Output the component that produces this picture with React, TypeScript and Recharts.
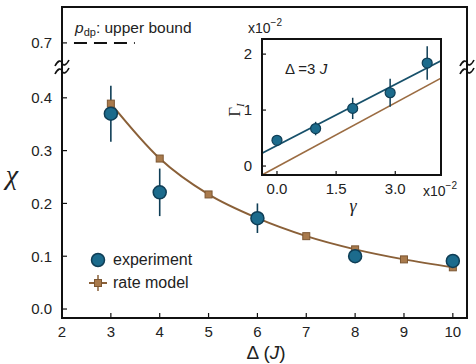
import React from 'react'
import {
  ComposedChart,
  Line,
  Scatter,
  ErrorBar,
  XAxis,
  YAxis,
  ReferenceLine,
} from 'recharts'

// main panel: chi vs Delta
const deltaExp = [3, 4, 6, 8, 10]
const chiExp = [0.37, 0.221, 0.172, 0.1, 0.091]
const chiExpErr = [0.053, 0.045, 0.028, 0.008, 0.008]
const deltaRate = [3, 4, 5, 6, 7, 8, 9, 10]
const chiRate = [0.389, 0.285, 0.217, 0.172, 0.138, 0.113, 0.094, 0.079]
const deltaTicks = [2, 3, 4, 5, 6, 7, 8, 9, 10]
const chiTicks = [0, 0.1, 0.2, 0.3, 0.4, 0.7]
const pdpBound = 0.7
const pdpSpan = [2.245, 3.49]

// inset: Gamma_I vs gamma (both x1e-2)
const gammaExp = [0.0, 0.98, 1.92, 2.87, 3.81]
const gammaRateExp = [0.46, 0.67, 1.03, 1.31, 1.84]
const gammaRateErr = [0.05, 0.12, 0.19, 0.25, 0.3]
const gammaFit = [-0.38, 4.16]
const expFit = [0.23, 1.88]
const rateFit = [-0.16, 1.57]
const gammaTicks = [0, 1.5, 3.0]
const gammaRateTicks = [0, 1, 2]

const mainX = [2, 10.29]
const mainY = [-0.017, 0.572]
const insetX = [-0.38, 4.16]
const insetY = [-0.16, 2.27]

// layout of the two panels
const W = 476
const H = 364
const MAIN = { top: 6, right: 8, left: 0, yAxisW: 62, xAxisH: 46 }
const INSET = { x: 210, y: 18, w: 240, h: 200, top: 20, right: 8, yAxisW: 52, xAxisH: 43 }

// broken y axis: values above the break are pulled down
const BREAK_SHIFT = 0.196
const disp = (v: number) => (v > 0.5 ? v - BREAK_SHIFT : v)
const undisp = (v: number) => (v > 0.45 ? v + BREAK_SHIFT : v)

const BLUE = '#1c6b8c'
const BLUE_DARK = '#0f3e56'
const BROWN = '#a97a4c'
const BROWN_DARK = '#7c5733'
const BROWN_LINE = '#8a6038'
const INK = '#222'
const AXIS = '#111'
const FONT = '"Liberation Sans", Arial, sans-serif'

const expData = deltaExp.map((x, i) => ({ x, y: chiExp[i], err: chiExpErr[i] }))
const rateData = deltaRate.map((x, i) => ({ x, y: chiRate[i] }))
const insetExp = gammaExp.map((x, i) => ({ x, y: gammaRateExp[i], err: gammaRateErr[i] }))
const insetExpFit = gammaFit.map((x, i) => ({ x, y: expFit[i] }))
const insetRateFit = gammaFit.map((x, i) => ({ x, y: rateFit[i] }))

const tickStyle = { fontSize: 15, fill: INK, fontFamily: FONT }
const tickLine = { stroke: AXIS, strokeWidth: 1.2 }
const spine = { stroke: AXIS, strokeWidth: 2 }

const Circle = (p: any) => (
  <circle cx={p.cx} cy={p.cy} r={6.5} fill={BLUE} stroke={BLUE_DARK} strokeWidth={1.5} />
)
const SmallCircle = (p: any) => (
  <circle cx={p.cx} cy={p.cy} r={5} fill={BLUE} stroke={BLUE_DARK} strokeWidth={1.2} />
)
const Square = (p: any) => (
  <rect
    key={p.index}
    x={p.cx - 3.5}
    y={p.cy - 3.5}
    width={7}
    height={7}
    fill={BROWN}
    stroke={BROWN_DARK}
    strokeWidth={1}
  />
)

function LegendBox() {
  return (
    <div
      style={{
        position: 'absolute',
        left: 88,
        top: 248,
        fontFamily: FONT,
        fontSize: 16,
        color: INK,
        lineHeight: '23px',
      }}
    >
      <div style={{ display: 'flex', alignItems: 'center' }}>
        <svg width={22} height={18}>
          <circle cx={10} cy={9} r={6.5} fill={BLUE} stroke={BLUE_DARK} strokeWidth={1.5} />
        </svg>
        <span style={{ marginLeft: 3 }}>experiment</span>
      </div>
      <div style={{ display: 'flex', alignItems: 'center' }}>
        <svg width={22} height={18}>
          <line x1={1} x2={19} y1={9} y2={9} stroke={BROWN_LINE} strokeWidth={2} />
          <line x1={10} x2={10} y1={1} y2={17} stroke={BROWN_LINE} strokeWidth={1.5} />
          <rect x={6.5} y={5.5} width={7} height={7} fill={BROWN} stroke={BROWN_DARK} />
        </svg>
        <span style={{ marginLeft: 3 }}>rate model</span>
      </div>
    </div>
  )
}

function Squiggle({ x, y }: { x: number; y: number }) {
  const wave = 'M -7 3 C -4 -3 -1 -3 0 0 S 4 3 7 -3'
  return (
    <g transform={`translate(${x},${y})`}>
      <path d={wave} transform="translate(0,-4)" fill="none" stroke="#111" strokeWidth={1.6} />
      <path d={wave} transform="translate(0,4)" fill="none" stroke="#111" strokeWidth={1.6} />
    </g>
  )
}

function Frame({ x, y, w, h }: { x: number; y: number; w: number; h: number }) {
  return (
    <path
      d={`M ${x} ${y} H ${x + w} V ${y + h} H ${x} Z`}
      fill="none"
      stroke={AXIS}
      strokeWidth={2}
    />
  )
}

function Inset() {
  return (
    <ComposedChart
      width={INSET.w}
      height={INSET.h}
      margin={{ top: INSET.top, right: INSET.right, bottom: 0, left: 0 }}
    >
      <XAxis
        xAxisId="b"
        dataKey="x"
        type="number"
        domain={insetX}
        ticks={gammaTicks}
        tickFormatter={(v) => v.toFixed(1)}
        height={INSET.xAxisH}
        tickSize={-4}
        tickMargin={12}
        axisLine={spine}
        tickLine={tickLine}
        tick={tickStyle}
        allowDataOverflow
      />
      <XAxis
        xAxisId="t"
        orientation="top"
        dataKey="x"
        type="number"
        domain={insetX}
        ticks={gammaTicks}
        tickFormatter={() => ''}
        height={1}
        tickSize={-4}
        axisLine={spine}
        tickLine={tickLine}
      />
      <YAxis
        yAxisId="l"
        type="number"
        domain={insetY}
        ticks={gammaRateTicks}
        width={INSET.yAxisW}
        tickSize={-4}
        tickMargin={14}
        axisLine={spine}
        tickLine={tickLine}
        tick={tickStyle}
        allowDataOverflow
      />
      <YAxis
        yAxisId="r"
        orientation="right"
        type="number"
        domain={insetY}
        ticks={gammaRateTicks}
        tickFormatter={() => ''}
        width={1}
        tickSize={-4}
        axisLine={spine}
        tickLine={tickLine}
      />
      <Line
        xAxisId="b"
        yAxisId="l"
        data={insetRateFit}
        dataKey="y"
        stroke="#9b6c42"
        strokeWidth={1.6}
        dot={false}
        isAnimationActive={false}
      />
      <Line
        xAxisId="b"
        yAxisId="l"
        data={insetExpFit}
        dataKey="y"
        stroke="#17506a"
        strokeWidth={1.8}
        dot={false}
        isAnimationActive={false}
      />
      <Scatter
        xAxisId="b"
        yAxisId="l"
        data={insetExp}
        dataKey="y"
        shape={SmallCircle}
        isAnimationActive={false}
      >
        <ErrorBar dataKey="err" direction="y" width={0} stroke={BLUE_DARK} strokeWidth={1.5} />
      </Scatter>
    </ComposedChart>
  )
}

export default function App() {
  // plot-area frames (axis spines)
  const mainFrame = {
    x: MAIN.left + MAIN.yAxisW,
    y: MAIN.top + 1,
    w: W - MAIN.right - 1 - MAIN.left - MAIN.yAxisW,
    h: H - MAIN.xAxisH - MAIN.top - 1,
  }
  const insetFrame = {
    x: INSET.x + INSET.yAxisW,
    y: INSET.y + INSET.top + 1,
    w: INSET.w - INSET.right - 1 - INSET.yAxisW,
    h: INSET.h - INSET.xAxisH - INSET.top - 1,
  }

  return (
    <div style={{ position: 'absolute', left: 0, top: 0, width: W, height: H, background: '#fff' }}>
      <ComposedChart
        width={W}
        height={H}
        margin={{ top: MAIN.top, right: MAIN.right, bottom: 0, left: MAIN.left }}
      >
        <XAxis
          xAxisId="b"
          dataKey="x"
          type="number"
          domain={mainX}
          ticks={deltaTicks}
          height={MAIN.xAxisH}
          tickSize={-5}
          tickMargin={13}
          axisLine={spine}
          tickLine={tickLine}
          tick={tickStyle}
          allowDataOverflow
        />
        <XAxis
          xAxisId="t"
          orientation="top"
          dataKey="x"
          type="number"
          domain={mainX}
          ticks={deltaTicks}
          tickFormatter={() => ''}
          height={1}
          tickSize={-5}
          axisLine={spine}
          tickLine={tickLine}
        />
        <YAxis
          yAxisId="l"
          type="number"
          domain={mainY}
          ticks={chiTicks.map(disp)}
          tickFormatter={(v) => undisp(v).toFixed(1)}
          width={MAIN.yAxisW}
          tickSize={-5}
          tickMargin={15}
          axisLine={spine}
          tickLine={tickLine}
          tick={tickStyle}
          allowDataOverflow
        />
        <YAxis
          yAxisId="r"
          orientation="right"
          type="number"
          domain={mainY}
          ticks={chiTicks.map(disp)}
          tickFormatter={() => ''}
          width={1}
          tickSize={-5}
          axisLine={spine}
          tickLine={tickLine}
        />
        <ReferenceLine
          xAxisId="b"
          yAxisId="l"
          segment={[
            { x: pdpSpan[0], y: disp(pdpBound) },
            { x: pdpSpan[1], y: disp(pdpBound) },
          ]}
          stroke="#111"
          strokeWidth={2}
          strokeDasharray="13 7"
        />
        <Line
          xAxisId="b"
          yAxisId="l"
          data={rateData}
          dataKey="y"
          type="monotone"
          stroke={BROWN_LINE}
          strokeWidth={2}
          dot={Square}
          activeDot={false}
          isAnimationActive={false}
        />
        <Scatter
          xAxisId="b"
          yAxisId="l"
          data={expData}
          dataKey="y"
          shape={Circle}
          isAnimationActive={false}
        >
          <ErrorBar dataKey="err" direction="y" width={0} stroke={BLUE_DARK} strokeWidth={1.6} />
        </Scatter>
      </ComposedChart>

      <LegendBox />

      <div style={{ position: 'absolute', left: INSET.x, top: INSET.y }}>
        <Inset />
      </div>

      <svg
        width={W}
        height={H}
        style={{ position: 'absolute', left: 0, top: 0, pointerEvents: 'none' }}
      >
        <Frame {...mainFrame} />
        <Frame {...insetFrame} />
        <Squiggle x={mainFrame.x} y={67} />
        <Squiggle x={mainFrame.x + mainFrame.w} y={67} />
        <text x={12} y={184} textAnchor="middle" fontFamily='"Liberation Serif", serif' fontStyle="italic" fontSize={28} fill={INK}>
          χ
        </text>
        <text x={266} y={359} textAnchor="middle" fontFamily={FONT} fontSize={19} fill={INK}>
          Δ (<tspan fontStyle="italic">J</tspan>)
        </text>
        <text x={75} y={33} fontFamily={FONT} fontSize={15.5} fill={INK}>
          <tspan fontStyle="italic">p</tspan>
          <tspan fontSize={11} dy={3}>dp</tspan>
          <tspan dy={-3}>: upper bound</tspan>
        </text>
        <text x={285} y={74} fontFamily={FONT} fontSize={15} fill={INK}>
          Δ =3 <tspan fontStyle="italic">J</tspan>
        </text>
        <text x={248} y={33} fontFamily={FONT} fontSize={14} fill={INK}>
          x10<tspan fontSize={10} dy={-7}>−2</tspan>
        </text>
        <text x={423} y={196} fontFamily={FONT} fontSize={14} fill={INK}>
          x10<tspan fontSize={10} dy={-7}>−2</tspan>
        </text>
        <text x={353} y={212} textAnchor="middle" fontFamily='"Liberation Serif", serif' fontStyle="italic" fontSize={18} fill={INK}>
          γ
        </text>
        <text
          transform="translate(240,110) rotate(-90)"
          textAnchor="middle"
          fontFamily='"Liberation Serif", serif'
          fontSize={17}
          fill={INK}
        >
          Γ<tspan fontSize={11} dy={4} fontStyle="italic">I</tspan>
        </text>
      </svg>
    </div>
  )
}
